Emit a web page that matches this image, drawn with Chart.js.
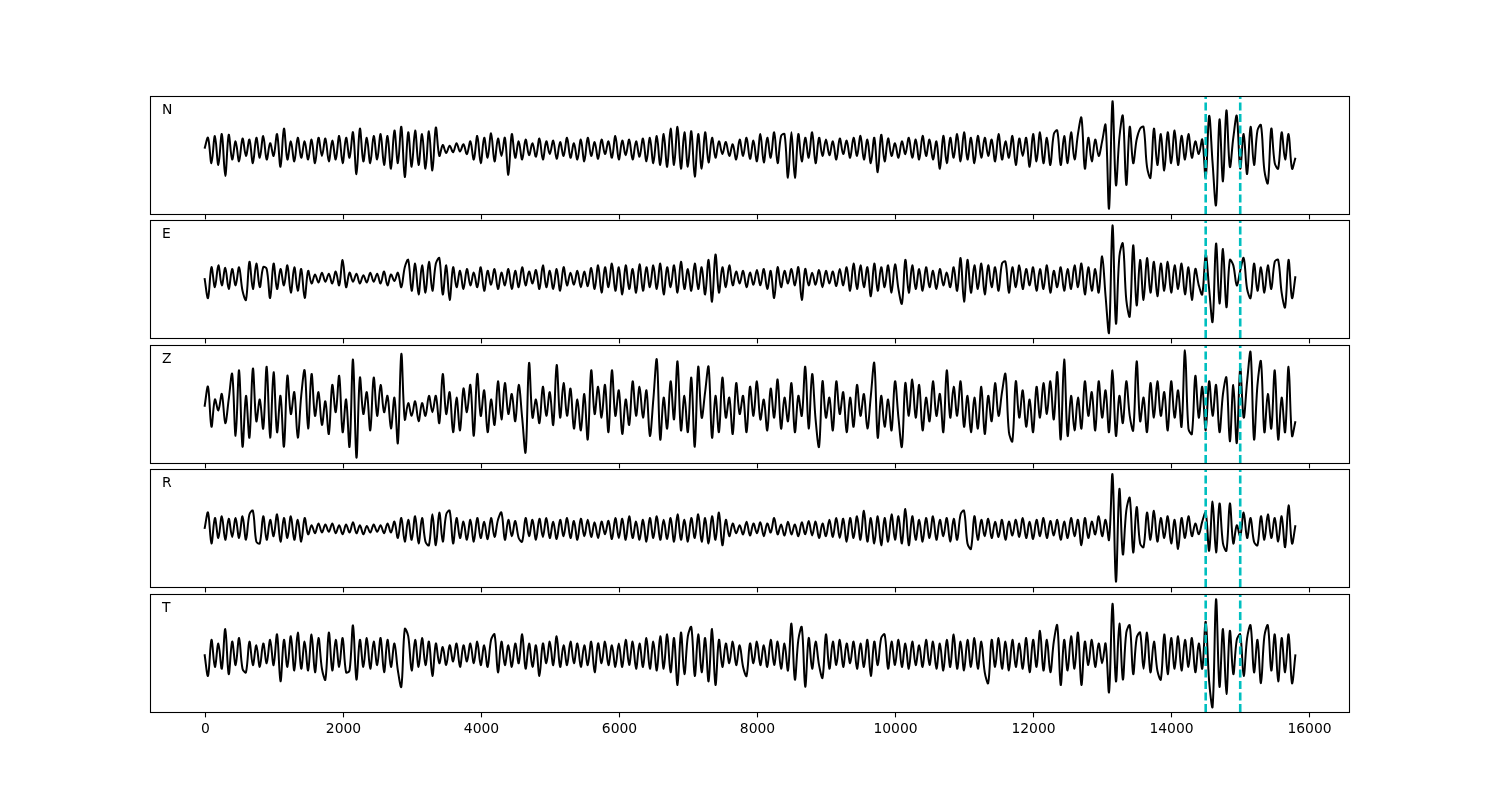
<!DOCTYPE html>
<html>
<head>
<meta charset="utf-8">
<script src="https://cdn.jsdelivr.net/npm/chart.js@4/dist/chart.umd.min.js"></script>
<style>
  body { margin: 0; background: #fff; }
  #wrap { position: relative; width: 1500px; height: 800px; overflow: hidden; }
  #wrap canvas { position: absolute; left: 0; }
</style>
</head>
<body>
<div id="wrap"></div>
<script>
// ================= DATA =================
// sample spacing of the traces (samples are 0, DT, 2*DT, ...)
const DT = 50;
const channels = ['N', 'E', 'Z', 'R', 'T'];
const pickTimes = [14500, 15000];
const xTicks = [0, 2000, 4000, 6000, 8000, 10000, 12000, 14000, 16000];

const nValues = [
  0, 30, -40, 35, -45, 40, -75, 38, -30, 20,
  -35, 28, -20, 25, -40, 30, -25, 35, -30, 15,
  -20, 40, -50, 55, -30, 20, -35, 30, -25, 20,
  -30, 25, -40, 30, -20, 28, -35, 22, -30, 35,
  -40, 30, -25, 45, -70, 55, -35, 30, -40, 35,
  -30, 40, -45, 35, -55, 50, -40, 60, -78, 45,
  -50, 50, -45, 40, -55, 48, -60, 58, -20, 10,
  -12, 8, -10, 15, -8, 12, -15, 20, -30, 35,
  -40, 30, -25, 42, -35, 28, -20, 30, -72, 40,
  -25, 20, -30, 25, -18, 15, -22, 28, -30, 20,
  -15, 22, -28, 18, -20, 30, -25, 15, -30, 25,
  -35, 30, -20, 18, -28, 25, -15, 20, -25, 35,
  -30, 22, -18, 25, -30, 20, -22, 28, -35, 30,
  -40, 35, -45, 40, -50, 55, -45, 60, -55, 45,
  -50, 48, -77, 40, -55, 45, -38, 30, -25, 20,
  -15, 18, -20, 12, -30, 25, -20, 30, -28, 22,
  -35, 40, -38, 30, -25, 45, -40, 35, 40, -80,
  45, -80, 40, -35, 30, -25, 45, -40, 30, -20,
  25, -18, 20, -30, 28, -15, 22, -25, 30, -20,
  35, -30, 25, -40, 30, -65, 38, -35, 28, -20,
  15, -25, 20, -15, 30, -25, 25, -30, 35, -20,
  25, -30, 20, -55, 35, -40, 30, -25, 40, -35,
  45, -30, 30, -40, 35, -25, 30, -20, 25, -35,
  40, -30, 20, -25, 35, -45, 28, -20, 30, -50,
  40, -35, 45, -40, 30, -45, 40, 50, -45, 35,
  -40, 45, -30, 40, 85, -55, 30, -35, 25, -20,
  20, 65, -165, 130, -100, 30, 90, -100, 60, -40,
  25, 55, 60, -50, -80, 55, -45, 40, -60, 45,
  -40, 50, -45, 35, -30, 40, -25, 20, -15, 25,
  -80, 90, -40, -155, 80, -90, 105, -50, 30, 90,
  -55, 40, -70, 60, -45, 50, 65, -60, -95, 55,
  -40, -55, 45, -30, 40, -55, -25
];

const eValues = [
  0, -55, 30, -25, 35, -20, 28, -30, 25, -20,
  30, -35, -60, 45, -30, 40, -25, 30, 25, -55,
  40, -30, 25, -20, 35, -40, 30, -35, 25, -55,
  20, -15, 10, -12, 15, -10, 12, -15, 18, -20,
  50, -25, 15, -10, 12, -15, 8, -12, 15, -10,
  12, -15, 18, -20, 10, -8, 15, -25, 30, 50,
  -35, 40, -45, 35, -40, 45, -35, 40, 55, -45,
  35, -60, 30, -25, 20, -30, 25, -20, 15, -25,
  30, -35, 20, -18, 25, -30, 15, -20, 25, -30,
  20, -25, 30, -20, 18, -15, 22, -30, 35, -25,
  20, -30, 25, -35, 30, -20, 15, -18, 20, -25,
  18, -22, 28, -30, 35, -40, 30, -25, 40, -35,
  30, -45, 35, -30, 25, -40, 38, -35, 30, -25,
  35, -30, 40, -45, 30, -25, 35, -40, 45, -30,
  25, -35, 40, -30, 30, -45, 50, -65, 65, -40,
  30, -25, 35, -20, 18, -15, 20, -25, 15, -18,
  22, -20, 25, -30, 20, -55, 30, -25, 20, -15,
  25, -20, 30, -60, 25, -20, 15, -18, 22, -25,
  20, -15, 18, -22, 25, -20, 30, -35, 40, -30,
  35, -25, 30, -50, 40, -35, 30, -25, 35, -40,
  38, -30, -70, 50, -40, 35, -30, 25, -35, 30,
  -25, 20, -30, 25, -20, 15, -25, 30, -35, 55,
  -65, 50, -40, 35, -30, 40, -45, 35, -25, 30,
  -35, 40, 45, -40, 30, -25, 35, -30, 25, -20,
  30, -35, 25, -30, 35, -40, 20, -25, 30, -35,
  25, -30, 35, -25, 40, -45, 30, -35, 25, -40,
  60, -50, -150, 145, -125, 60, 95, -60, -105, 90,
  -75, 50, -60, 55, -40, 45, -50, 40, -35, 45,
  -40, 35, -30, 40, -45, 30, -60, 25, -20, -45,
  65, -30, -120, 95, -70, 80, -80, 50, 35, -20,
  20, 55, -30, -55, 40, -35, 30, -40, 35, -30,
  45, 50, -40, -80, 50, -55, 5
];

const zValues = [
  0, 55, -55, 20, -10, 35, -45, 20, 90, -80,
  100, -110, 30, -85, 105, -40, 20, -60, 110, -85,
  95, -70, 30, -110, 85, -20, 40, -85, 30, 100,
  -60, 90, -25, 40, -50, 15, -75, 60, -15, 85,
  -70, 20, -110, 130, -140, 80, -20, 40, -65, 80,
  -25, 60, -15, 30, -60, 25, -100, 145, -35, 10,
  -25, 15, -40, 10, -25, 30, -15, 30, -45, 90,
  -20, 40, -70, 25, -65, 50, -15, 60, -80, 90,
  -25, 45, -70, 20, -50, 70, -35, 65, -20, 35,
  -40, 60, -30, -125, 120, -30, 20, -45, 55, -25,
  40, -50, 115, -30, 65, -25, 50, -60, 20, -65,
  35, -90, 100, -20, 55, -30, 60, -70, 100, -25,
  45, -75, 20, -50, 70, -25, 55, -30, 45, -80,
  20, 130, -90, 25, -60, 70, -35, 125, -65, 30,
  -70, 80, -110, 110, -30, 40, 110, -85, 30, -70,
  80, -30, 25, -75, 65, -20, 30, -70, 55, -25,
  70, -35, 20, -65, 50, -30, 75, -60, 25, -40,
  65, -70, 30, -25, 110, -60, 90, -35, -110, 70,
  -30, 25, -65, 70, -20, 40, -70, 25, -55, 60,
  -25, 35, -60, 30, 120, -85, 30, -55, 20, -65,
  70, -30, -110, 65, -25, 75, -30, 60, -65, 25,
  -40, 70, -25, 35, -70, 100, -30, 55, -25, 70,
  -55, 30, -70, 25, -60, 55, -75, 30, -40, 65,
  -25, 40, 90, -70, -95, 70, -30, 45, -55, 20,
  -70, 55, -30, 65, -20, 70, -35, 95, -90, 130,
  -80, 30, -65, 25, -60, 70, -25, 40, -65, 70,
  -30, 45, -70, 100, -80, 30, -45, 70, -25, -65,
  125, -40, 25, -70, 65, -30, 70, -25, 40, -65,
  70, -30, 45, -55, 155, -60, -75, 85, -30, 55,
  -65, 70, -25, 60, -70, 35, 80, -95, 60, -100,
  105, -30, 70, 150, -90, 60, 125, -70, 35, -60,
  100, -90, 25, -70, 110, -80, -40
];

const rValues = [
  0, 45, -40, 30, -25, 35, -30, 28, -22, 30,
  -25, 35, -30, 40, 50, -35, -40, 35, -30, 25,
  -20, 40, -35, 30, -25, 35, -30, 25, -35, 30,
  -15, 10, -12, 15, -10, 12, -8, 15, -12, 10,
  -15, 12, -10, 18, -12, 10, -15, 8, -10, 12,
  -8, 10, -12, 15, -10, 20, -25, 30, -35, 25,
  -30, 35, -40, 30, -35, -45, 40, -45, 45, -35,
  40, 50, -40, 30, -25, 20, -30, 25, -35, 30,
  -25, 20, -28, 30, -22, 25, 45, -30, 25, -20,
  22, -25, -35, 30, -20, 25, -30, 28, -22, 30,
  -25, 20, -28, 25, -20, 30, -25, 22, -30, 28,
  -20, 25, -22, 18, -25, 20, -15, 22, -28, 30,
  -25, 28, -30, 35, -25, 20, -30, 25, -35, 30,
  -25, 35, -30, 25, -28, 30, -35, 40, -30, 25,
  -35, 30, -25, 40, -35, 30, -40, 35, -30, 45,
  -45, 25, -20, 15, -12, 10, -15, 20, -18, 15,
  -12, 18, -20, 15, -10, 30, -15, 12, -18, 20,
  -15, 12, -20, 18, -15, 22, -18, 20, -25, 15,
  -20, 25, -22, 30, -25, 28, -35, 30, -25, 35,
  -30, 50, -35, 30, -40, 35, -45, 30, -35, 40,
  -30, 35, -40, 55, -45, 35, -30, 25, -35, 30,
  -25, 35, -30, 25, -20, 30, -35, 28, -30, 40,
  50, -40, -55, 35, -30, 25, -20, 28, -25, 20,
  -22, 25, -30, 20, -18, 25, -22, 30, -25, 20,
  -28, 25, -20, 30, -25, 22, -18, 25, -30, 20,
  -25, 30, -20, 25, -45, 30, -25, 20, -15, 35,
  -20, 25, -30, 150, -145, 110, -70, 50, 85, -65,
  60, -40, -50, 45, -30, 50, -35, 30, -25, 35,
  -40, 25, -55, 30, -25, 35, -20, 15, -15, 20,
  45, -60, 75, -65, 70, -40, -60, 70, -40, 10,
  -20, 45, -25, 30, -35, -45, 35, -30, 40, -25,
  30, -35, 35, -50, 65, -40, 10
];

const tValues = [
  0, -60, 40, -35, 30, -40, 70, -55, 35, -30,
  45, -40, -50, 35, -30, 25, -35, 30, -25, 40,
  -30, 55, -75, 40, -35, 50, -45, 60, -40, 35,
  -45, 55, -50, 45, -40, -70, 60, -45, 40, -35,
  45, -50, -45, 80, -70, 40, -35, 45, -40, 35,
  -30, 45, -50, 40, -35, 30, -45, -90, 70, 50,
  -45, 40, -35, 45, -30, 35, -60, 30, -25, 20,
  -30, 25, -20, 30, -35, 25, -20, 30, -25, 35,
  -30, 25, -35, 40, 55, -50, 35, -30, 25, -35,
  30, -25, 55, -40, 30, -35, 25, -60, 30, -25,
  35, -30, 50, -35, 25, -30, 35, -25, 30, -35,
  25, -30, 35, -50, 30, -25, 35, -30, 25, -35,
  30, -35, 40, -30, 35, -40, 30, -35, 45, -40,
  35, -45, 50, -40, 55, -50, 45, -85, 60, -55,
  50, 75, -60, 55, -50, 45, -75, 70, -85, 40,
  -35, 30, -25, 35, -30, 25, -35, -60, 30, -25,
  35, -30, 25, -35, 40, -30, 35, -40, 30, -45,
  85, -70, 40, 75, -90, 45, -40, 35, -30, -65,
  55, -40, 35, -30, 40, -35, 30, -25, 35, -40,
  30, -35, 40, -60, 35, -30, 45, 55, -40, 35,
  -30, 40, -35, 30, -40, 35, -30, 25, -35, 40,
  -30, 35, -40, 30, -45, 40, -35, 55, -40, 35,
  -45, 40, -35, 45, -40, 35, -50, -80, 40, -35,
  45, -40, 35, -45, 40, -35, 30, -40, 45, -50,
  40, -35, 65, -45, 40, -50, 35, 80, -85, 40,
  -45, 50, -40, 60, -85, 35, -30, 40, -35, 30,
  -25, 30, -105, 140, -75, 85, -70, 60, 80, -55,
  45, 60, -40, 60, -50, 35, -45, -70, 55, -55,
  45, -40, 50, -45, 40, -35, 45, -50, 30, -40,
  90, -75, -145, 152, -90, 70, -110, 65, -55, 40,
  55, -60, 45, 80, -50, 40, -80, 50, 80, -45,
  55, -75, 45, -50, 55, -80, 0
];

const traces = [nValues, eValues, zValues, rValues, tValues];

// ================= LAYOUT =================
const panelTops = [96, 220, 345, 469, 594];
const PANEL_H = 118;
const PAD_TOP = 10;
const PAD_BOTTOM = 40;
const X_MIN = -790, X_MAX = 16590;
const FONT = '13.9px "DejaVu Sans", sans-serif';

// frame, tick marks, tick labels and channel name
const framePlugin = {
    id: 'frame',
    afterDraw(chart, args, opts) {
        const { ctx, chartArea: a } = chart;
        const x = chart.scales.x;
        ctx.save();
        ctx.strokeStyle = '#000';
        ctx.lineWidth = 1.1;
        ctx.strokeRect(a.left + 0.5, a.top + 0.5, a.right - a.left - 1, a.bottom - a.top);

        ctx.font = FONT;
        ctx.fillStyle = '#000';
        ctx.textAlign = 'center';
        ctx.textBaseline = 'top';
        xTicks.forEach(t => {
            const px = Math.round(x.getPixelForValue(t)) + 0.5;
            ctx.beginPath();
            ctx.moveTo(px, a.bottom + 0.5);
            ctx.lineTo(px, a.bottom + 5.4);
            ctx.stroke();
            if (opts.labels) ctx.fillText(String(t), px, a.bottom + 10);
        });

        ctx.textAlign = 'left';
        ctx.textBaseline = 'alphabetic';
        ctx.fillText(opts.name, a.left + 12, a.top + 17.5);
        ctx.restore();
    }
};

function buildPanel(idx) {
    const values = traces[idx];
    const lo = Math.min(...values);
    const hi = Math.max(...values);
    const span = hi - lo;
    const yMin = lo - 0.05 * span;
    const yMax = hi + 0.05 * span;

    const canvas = document.createElement('canvas');
    canvas.width = 1500;
    canvas.height = PANEL_H + PAD_TOP + PAD_BOTTOM;
    canvas.style.top = (panelTops[idx] - PAD_TOP) + 'px';
    document.getElementById('wrap').appendChild(canvas);

    const pickSets = pickTimes.map(t => ({
        data: [{ x: t, y: yMin }, { x: t, y: yMax }],
        borderColor: '#00bfbf',
        borderWidth: 2.6,
        borderDash: [8, 3.5],
        pointRadius: 0,
        tension: 0,
        order: 1
    }));

    new Chart(canvas.getContext('2d'), {
        type: 'line',
        data: {
            datasets: [{
                data: values.map((v, i) => ({ x: i * DT, y: v })),
                borderColor: '#000',
                borderWidth: 2,
                borderJoinStyle: 'round',
                pointRadius: 0,
                tension: 0.35,
                order: 2
            }, ...pickSets]
        },
        options: {
            responsive: false,
            animation: false,
            devicePixelRatio: 1,
            layout: { padding: { left: 150, right: 150, top: PAD_TOP, bottom: PAD_BOTTOM } },
            plugins: {
                legend: { display: false },
                tooltip: { enabled: false },
                frame: { name: channels[idx], labels: idx === channels.length - 1 }
            },
            scales: {
                x: { type: 'linear', min: X_MIN, max: X_MAX, display: false },
                y: { type: 'linear', min: yMin, max: yMax, display: false }
            }
        },
        plugins: [framePlugin]
    });
}

channels.forEach((c, i) => buildPanel(i));
</script>
</body>
</html>
